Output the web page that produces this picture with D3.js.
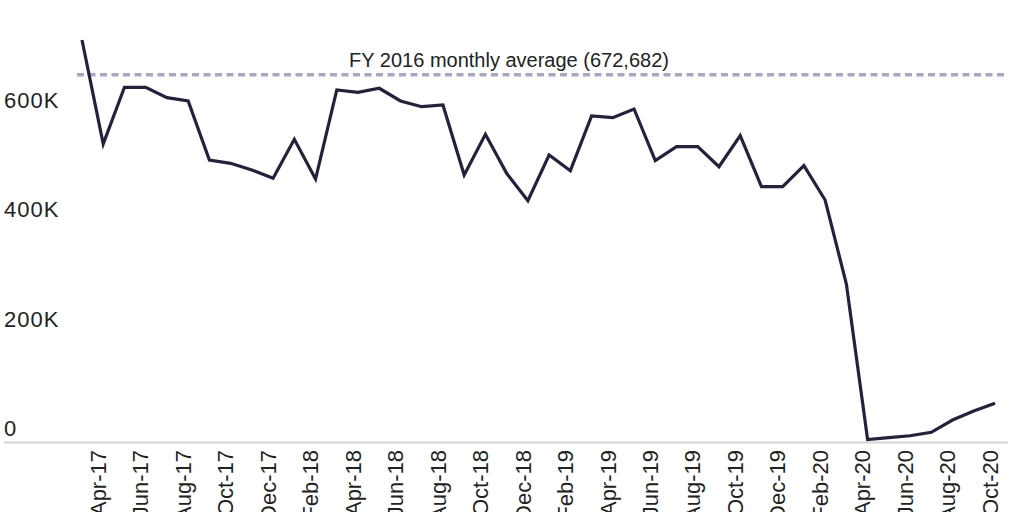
<!DOCTYPE html>
<html lang="en">
<head>
  <meta charset="UTF-8">
  <title>Monthly volume</title>
  <script src="https://d3js.org/d3.v7.min.js"></script>
  <style>
    body {
      margin: 0;
      background: #fff;
      font-family: "Liberation Sans", Arial, sans-serif;
    }
    .tick line, .domain {
      display: none;
    }
  </style>
</head>
<body>
  <div id="chart"></div>

  <script>
    // months, Mar-17 .. Oct-20
    const months = [
      "Mar-17", "Apr-17", "May-17", "Jun-17", "Jul-17", "Aug-17", "Sep-17", "Oct-17", "Nov-17", "Dec-17",
      "Jan-18", "Feb-18", "Mar-18", "Apr-18", "May-18", "Jun-18", "Jul-18", "Aug-18", "Sep-18", "Oct-18", "Nov-18", "Dec-18",
      "Jan-19", "Feb-19", "Mar-19", "Apr-19", "May-19", "Jun-19", "Jul-19", "Aug-19", "Sep-19", "Oct-19", "Nov-19", "Dec-19",
      "Jan-20", "Feb-20", "Mar-20", "Apr-20", "May-20", "Jun-20", "Jul-20", "Aug-20", "Sep-20", "Oct-20"
    ];

    const values = [
      736000, 546000, 649500, 649500, 630500, 624500, 516600, 510500, 498300, 483100,
      554400, 481800, 644600, 640400, 647700, 624500, 614000, 617100, 489100, 563600, 492300, 442200,
      525700, 497000, 597000, 593900, 609800, 515300, 540900, 540900, 504300, 561000, 467800, 467800,
      506200, 443400, 289800, 5500, 9000, 12400, 18700, 41100, 57600, 71700
    ];

    // every second month gets a label
    const tickMonths = months.filter((d, i) => i % 2 === 1);

    const yTicks = [0, 200000, 400000, 600000];
    const yTickLabels = ["0", "200K", "400K", "600K"];

    const fy2016Average = 672682;
    const averageLabel = "FY 2016 monthly average (672,682)";

    const width = 1024;
    const height = 512;

    const x = d3.scalePoint()
      .domain(months)
      .range([82, 995]);

    const y = d3.scaleLinear()
      .domain([0, 800000])
      .range([442.5, 5]);

    const svg = d3.select("#chart")
      .append("svg")
      .attr("width", width)
      .attr("height", height);

    // baseline
    svg.append("line")
      .attr("x1", 4)
      .attr("x2", 1008)
      .attr("y1", y(0))
      .attr("y2", y(0))
      .attr("stroke", "#d4d4d4")
      .attr("stroke-width", 2);

    // y axis labels sit above their value
    const yAxis = svg.append("g")
      .attr("transform", "translate(4,0)")
      .call(d3.axisLeft(y)
        .tickValues(yTicks)
        .tickFormat((d, i) => yTickLabels[i]));

    yAxis.selectAll("text")
      .attr("x", 0)
      .attr("dy", -7)
      .attr("text-anchor", "start")
      .attr("fill", "#222")
      .style("font-size", "22px")
      .style("letter-spacing", "1px")
      .style("font-family", "'Liberation Sans', Arial, sans-serif");

    // x axis, rotated labels
    const xAxis = svg.append("g")
      .attr("transform", "translate(0,450)")
      .call(d3.axisBottom(x).tickValues(tickMonths).tickSize(0));

    xAxis.selectAll("text")
      .attr("transform", "rotate(-90)")
      .attr("x", 0)
      .attr("y", 0)
      .attr("dy", "0.1em")
      .attr("text-anchor", "end")
      .attr("fill", "#222")
      .style("font-size", "22px")
      .style("font-family", "'Liberation Sans', Arial, sans-serif");

    // reference line for FY 2016 average
    svg.append("line")
      .attr("x1", 77)
      .attr("x2", 1006)
      .attr("y1", y(fy2016Average))
      .attr("y2", y(fy2016Average))
      .attr("stroke", "#aba6c5")
      .attr("stroke-width", 3.5)
      .attr("stroke-dasharray", "7,4.5");

    svg.append("text")
      .attr("x", 509)
      .attr("y", y(fy2016Average) - 8)
      .attr("text-anchor", "middle")
      .attr("fill", "#222")
      .style("font-size", "20px")
      .text(averageLabel);

    // main series
    const line = d3.line()
      .x((d, i) => x(months[i]))
      .y(d => y(d));

    svg.append("path")
      .datum(values)
      .attr("fill", "none")
      .attr("stroke", "#25213d")
      .attr("stroke-width", 3.2)
      .attr("stroke-linejoin", "miter")
      .attr("d", line);
  </script>
</body>
</html>
